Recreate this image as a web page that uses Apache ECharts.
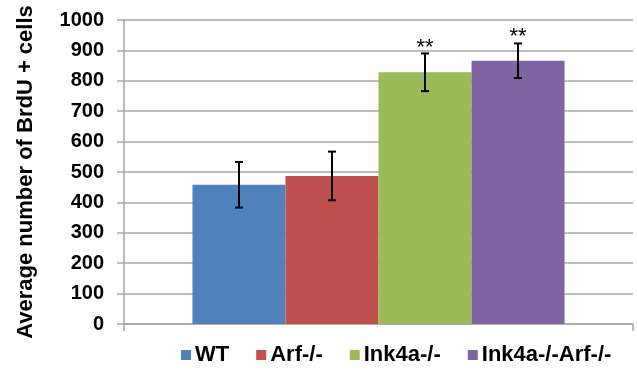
<!DOCTYPE html>
<html>
<head>
<meta charset="utf-8">
<script src="https://cdn.jsdelivr.net/npm/echarts@6/dist/echarts.min.js"></script>
<style>html,body{margin:0;padding:0;background:#fff;}#c{width:637px;height:371px;}</style>
</head>
<body>
<div id="c"></div>
<script>
const groups = ['WT', 'Arf-/-', 'Ink4a-/-', 'Ink4a-/-Arf-/-'];
const means = [458, 487, 828, 866];
const errors = [75, 80, 62, 57];
const marks = ['', '', '**', '**'];
const colors = ['#4F81BD', '#C0504D', '#9BBB59', '#8064A2'];
const yTicks = [0, 100, 200, 300, 400, 500, 600, 700, 800, 900, 1000];
const yName = 'Average number of BrdU + cells';

const GAP = 0.269;
const FONT = '"Liberation Sans", Arial, sans-serif';

const chart = echarts.init(document.getElementById('c'), null, {renderer: 'canvas'});

const barSeries = groups.map((g, i) => ({
  name: g,
  type: 'bar',
  data: [means[i]],
  itemStyle: {color: colors[i]},
  barGap: '0%',
  barCategoryGap: (GAP * 100).toFixed(1) + '%',
  animation: false
}));

const errData = groups.map((g, i) => [0, means[i], errors[i], i]);

const errSeries = {
  type: 'custom',
  data: errData,
  encode: {x: 0, y: 1},
  z: 10,
  animation: false,
  renderItem: function (params, api) {
    const mean = api.value(1), err = api.value(2), idx = api.value(3);
    const mark = marks[params.dataIndex];
    const c = api.coord([0, mean]);
    const catW = api.size([1, 0])[0];
    const barW = catW * (1 - GAP) / groups.length;
    const x = c[0] + (idx - (groups.length - 1) / 2) * barW;
    const yt = api.coord([0, mean + err])[1];
    const yb = api.coord([0, mean - err])[1];
    const cap = 4;
    const st = {stroke: '#000', lineWidth: 2};
    const children = [
      {type: 'line', shape: {x1: x, y1: yt, x2: x, y2: yb}, style: st},
      {type: 'line', shape: {x1: x - cap, y1: yt, x2: x + cap, y2: yt}, style: st},
      {type: 'line', shape: {x1: x - cap, y1: yb, x2: x + cap, y2: yb}, style: st}
    ];
    if (mark) {
      children.push({type: 'text', style: {text: mark, x: x, y: yt - 17, textAlign: 'center', textVerticalAlign: 'top', fill: '#000', font: '22px ' + FONT}});
    }
    return {type: 'group', children: children};
  }
};

chart.setOption({
  backgroundColor: '#fff',
  animation: false,
  grid: {left: 124, right: 4, top: 20, bottom: 47},
  legend: {
    data: groups,
    left: 176,
    top: 339,
    icon: 'rect',
    itemWidth: 10,
    itemHeight: 10,
    itemGap: 27,
    textStyle: {fontFamily: FONT, fontWeight: 'bold', fontSize: 22, color: '#000', padding: [0, 0, 0, -1]}
  },
  xAxis: {
    type: 'category',
    data: [''],
    axisLine: {lineStyle: {color: '#a6a6a6', width: 1.5}},
    axisTick: {show: true, length: 7, lineStyle: {color: '#a6a6a6', width: 1.5}},
    axisLabel: {show: false},
    splitLine: {show: false}
  },
  yAxis: {
    type: 'value',
    min: yTicks[0],
    max: yTicks[yTicks.length - 1],
    interval: yTicks[1] - yTicks[0],
    name: yName,
    nameLocation: 'middle',
    nameGap: 87,
    nameTextStyle: {fontFamily: FONT, fontWeight: 'bold', fontSize: 22, color: '#000'},
    axisLine: {show: true, lineStyle: {color: '#a6a6a6', width: 1.5}},
    axisTick: {show: true, length: 7, lineStyle: {color: '#a6a6a6', width: 1.5}},
    axisLabel: {fontFamily: FONT, fontWeight: 'bold', fontSize: 20, color: '#000', margin: 20, formatter: function (v) { return String(v); }},
    splitLine: {show: true, lineStyle: {color: '#a6a6a6', width: 1.5}}
  },
  series: barSeries.concat([errSeries])
});
</script>
</body>
</html>
